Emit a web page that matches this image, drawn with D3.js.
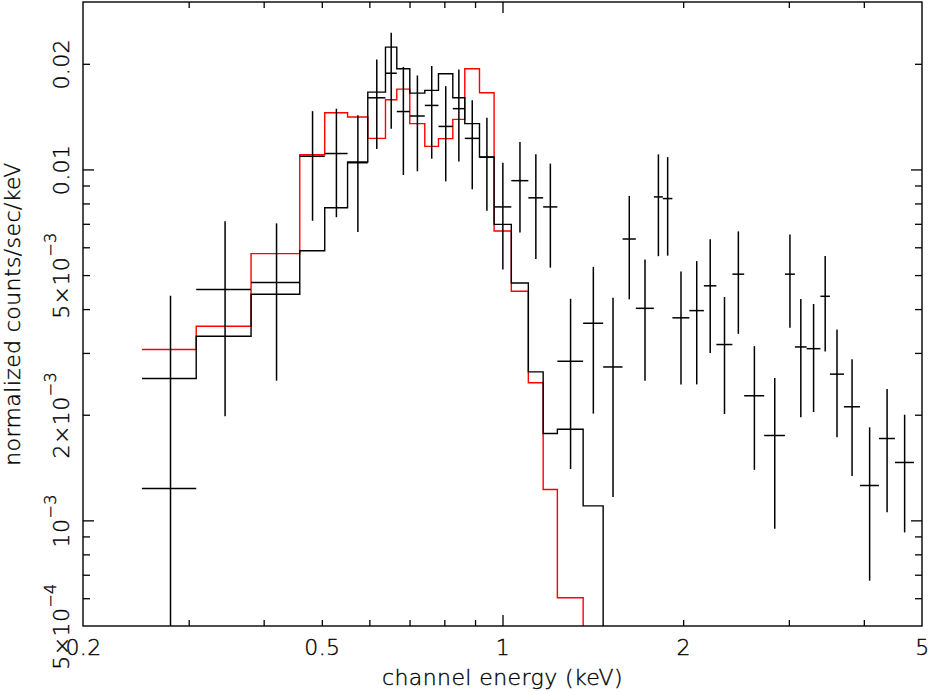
<!DOCTYPE html>
<html>
<head>
<meta charset="utf-8">
<script src="https://cdn.jsdelivr.net/npm/d3@7"></script>
<style>
  html, body { margin: 0; padding: 0; background: #fff; }
  svg { display: block; }
  text { font-family: "DejaVu Sans", sans-serif; font-weight: 200; fill: #000; stroke: #000; stroke-width: 0.35px; letter-spacing: 0.4px; }
</style>
</head>
<body>
<svg id="chart" width="929" height="692"></svg>
<script>
// ---- data (keV, normalized counts/sec/keV) ----
const binEdges = [0.2508, 0.3088, 0.3811, 0.4594, 0.5056, 0.5519, 0.5964, 0.6383, 0.6666, 0.7007,
  0.7422, 0.7822, 0.8264, 0.8653, 0.9155, 0.9683, 1.0344, 1.1042, 1.1688, 1.2343, 1.3626,
  1.4713, 1.585, 1.6679, 1.7873, 1.8501, 1.9188, 2.0481, 2.1654, 2.2718, 2.4156, 2.5276,
  2.7292, 2.9548, 3.0704, 3.2114, 3.386, 3.5116, 3.7056, 3.9408, 4.239, 4.5074, 4.848];
const dataValues = [1.233e-3, 4.55e-3, 4.76e-3, 0.0109, 0.0111, 0.01045, 0.0160, 0.0188, 0.01462, 0.0142,
  0.01522, 0.01326, 0.0149, 0.01226, 0.01083, 7.82e-3, 9.29e-3, 8.30e-3, 7.82e-3, 2.84e-3,
  3.645e-3, 2.736e-3, 6.335e-3, 4.02e-3, 8.35e-3, 8.26e-3, 3.777e-3, 3.96e-3, 4.66e-3, 3.17e-3,
  5.03e-3, 2.265e-3, 1.745e-3, 5.03e-3, 3.12e-3, 3.085e-3, 4.35e-3, 2.61e-3, 2.107e-3, 1.257e-3,
  1.711e-3, 1.462e-3];
const dataErrors = [3.13e-3, 2.57e-3, 2.26e-3, 3.76e-3, 3.79e-3, 3.82e-3, 4.56e-3, 5.73e-3, 4.98e-3, 4.32e-3,
  4.49e-3, 4.01e-3, 4.37e-3, 3.48e-3, 3.21e-3, 2.63e-3, 2.68e-3, 2.74e-3, 2.57e-3, 1.44e-3,
  1.63e-3, 1.57e-3, 2.07e-3, 1.52e-3, 2.69e-3, 2.58e-3, 1.34e-3, 1.52e-3, 1.66e-3, 1.16e-3,
  1.63e-3, 0.872e-3, 0.799e-3, 1.49e-3, 1.154e-3, 1.05e-3, 1.32e-3, 0.886e-3, 0.77e-3, 0.584e-3,
  0.656e-3, 0.538e-3];
const modelBlack = [2.537e-3, 3.348e-3, 4.409e-3, 5.863e-3, 7.78e-3, 0.010495, 0.016607, 0.02231, 0.01936, 0.0165,
  0.016795, 0.01874, 0.01601, 0.013505, 0.010845, 6.975e-3, 4.748e-3, 2.649e-3, 1.769e-3, 1.819e-3,
  1.1e-3, 1e-5];
const modelRed = [3.068e-3, 3.575e-3, 5.757e-3, 0.011015, 0.01451, 0.0141, 0.01226, 0.0158, 0.01694, 0.013505,
  0.011635, 0.012237, 0.01389, 0.01936, 0.01654, 6.676e-3, 4.497e-3, 2.468e-3, 1.225e-3, 0.602e-3,
  1e-5];
const xDomain = [0.2, 5];
const yDomain = [5e-4, 0.03];
const xLabelTicks = [0.2, 0.5, 1, 2, 5];
const xMajorTicks = [1];
const xMinorTicks = [0.3, 0.4, 0.5, 0.6, 0.7, 0.8, 0.9, 2, 3, 4];
const yLabelTicks = [5e-4, 1e-3, 2e-3, 5e-3, 0.01, 0.02];
const yLabelText = [["5\u00d710", "\u22124"], ["10", "\u22123"], ["2\u00d710", "\u22123"], ["5\u00d710", "\u22123"], ["0.01", ""], ["0.02", ""]];
const yMajorTicks = [1e-3, 1e-2];
const yMinorTicks = [6e-4, 7e-4, 8e-4, 9e-4, 2e-3, 3e-3, 4e-3, 5e-3, 6e-3, 7e-3, 8e-3, 9e-3, 0.02];
const xTitle = "channel energy (keV)";
const yTitle = "normalized counts/sec/keV";

// ---- layout ----
const L = 83, R = 922, T = 2, B = 626;
const svg = d3.select("#chart");
const x = d3.scaleLog().domain(xDomain).range([L, R]);
const y = d3.scaleLog().domain(yDomain).range([B, T]);

svg.append("defs").append("clipPath").attr("id", "plotclip")
  .append("rect").attr("x", L).attr("y", T).attr("width", R - L).attr("height", B - T);

const plot = svg.append("g").attr("clip-path", "url(#plotclip)");

// model step lines
function stepPoints(vals) {
  const pts = [];
  vals.forEach((v, i) => { pts.push([binEdges[i], v]); pts.push([binEdges[i + 1], v]); });
  return pts;
}
const line = d3.line().x(d => x(d[0])).y(d => y(d[1]));
plot.append("path").attr("d", line(stepPoints(modelRed)))
  .attr("fill", "none").attr("stroke", "#ff0000").attr("stroke-width", 1.4);
plot.append("path").attr("d", line(stepPoints(modelBlack)))
  .attr("fill", "none").attr("stroke", "#000").attr("stroke-width", 1.4);

// data crosses
const pts = dataValues.map((v, i) => ({
  lo: binEdges[i], hi: binEdges[i + 1], c: (binEdges[i] + binEdges[i + 1]) / 2, v, e: dataErrors[i]
}));
const g = plot.append("g").attr("stroke", "#000").attr("stroke-width", 1.5);
g.selectAll("line.h").data(pts).join("line").attr("class", "h")
  .attr("x1", d => x(d.lo)).attr("x2", d => x(d.hi))
  .attr("y1", d => y(d.v)).attr("y2", d => y(d.v));
g.selectAll("line.v").data(pts).join("line").attr("class", "v")
  .attr("x1", d => x(d.c)).attr("x2", d => x(d.c))
  .attr("y1", d => y(d.v + d.e)).attr("y2", d => y(Math.max(d.v - d.e, 1e-6)));

// ---- axes ----
function styleAxis(sel) {
  sel.select(".domain").remove();
  sel.selectAll(".tick line").attr("stroke", "#000").attr("stroke-width", 1.3);
}
// bottom
svg.append("g").attr("transform", `translate(0,${B})`)
  .call(d3.axisBottom(x).tickValues(xMinorTicks).tickSize(-6).tickFormat("")).call(styleAxis);
svg.append("g").attr("transform", `translate(0,${B})`)
  .call(d3.axisBottom(x).tickValues(xMajorTicks).tickSize(-11).tickFormat("")).call(styleAxis);
const xLab = svg.append("g").attr("transform", `translate(0,${B})`)
  .call(d3.axisBottom(x).tickValues(xLabelTicks).tickSize(0).tickFormat(d3.format("")));
xLab.select(".domain").remove();
xLab.selectAll(".tick text").attr("y", 29).attr("dy", null)
  .attr("font-size", 22).attr("font-family", null).attr("fill", "#000");
// top
svg.append("g").attr("transform", `translate(0,${T})`)
  .call(d3.axisTop(x).tickValues(xMinorTicks).tickSize(-6).tickFormat("")).call(styleAxis);
svg.append("g").attr("transform", `translate(0,${T})`)
  .call(d3.axisTop(x).tickValues(xMajorTicks).tickSize(-11).tickFormat("")).call(styleAxis);
// left
svg.append("g").attr("transform", `translate(${L},0)`)
  .call(d3.axisLeft(y).tickValues(yMinorTicks).tickSize(-7).tickFormat("")).call(styleAxis);
svg.append("g").attr("transform", `translate(${L},0)`)
  .call(d3.axisLeft(y).tickValues(yMajorTicks).tickSize(-11).tickFormat("")).call(styleAxis);
const yLab = svg.append("g").attr("transform", `translate(${L},0)`)
  .call(d3.axisLeft(y).tickValues(yLabelTicks).tickSize(0).tickFormat(""));
yLab.select(".domain").remove();
yLab.selectAll(".tick text").each(function (d, i) {
  const t = d3.select(this);
  t.attr("x", null).attr("dy", null).attr("y", null)
    .attr("transform", `translate(-14,0) rotate(-90)`)
    .attr("text-anchor", "middle").attr("font-size", 22).attr("font-family", null).attr("fill", "#000");
  const parts = yLabelText[i];
  t.append("tspan").text(parts[0]);
  if (parts[1]) t.append("tspan").attr("dy", -13).attr("font-size", 16).text(parts[1]);
});
// right
svg.append("g").attr("transform", `translate(${R},0)`)
  .call(d3.axisRight(y).tickValues(yMinorTicks).tickSize(-7).tickFormat("")).call(styleAxis);
svg.append("g").attr("transform", `translate(${R},0)`)
  .call(d3.axisRight(y).tickValues(yMajorTicks).tickSize(-11).tickFormat("")).call(styleAxis);

// frame
svg.append("rect").attr("x", L).attr("y", T).attr("width", R - L).attr("height", B - T)
  .attr("fill", "none").attr("stroke", "#000").attr("stroke-width", 1.4);

// titles
svg.append("text").attr("x", (L + R) / 2).attr("y", 685).attr("text-anchor", "middle")
  .attr("font-size", 22).text(xTitle);
svg.append("text").attr("transform", `translate(20,${(T + B) / 2}) rotate(-90)`)
  .attr("text-anchor", "middle").attr("font-size", 22).text(yTitle);
</script>
</body>
</html>
